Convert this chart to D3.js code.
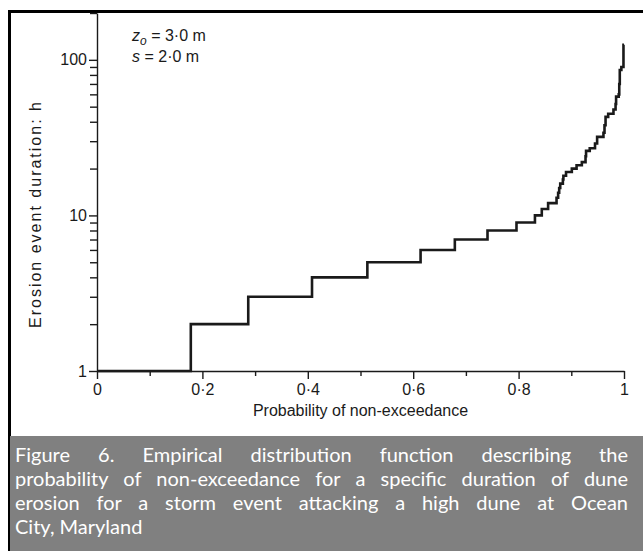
<!DOCTYPE html>
<html><head><meta charset="utf-8">
<script src="https://cdn.jsdelivr.net/npm/d3@7"></script>
<style>
html,body{margin:0;padding:0;background:#fff;}
#wrap{position:relative;width:643px;height:551px;overflow:hidden;}
svg{position:absolute;left:0;top:0;}
#cap{position:absolute;left:10px;top:436px;width:633px;height:115px;background:#808080;}
#cap div{position:absolute;left:5px;width:613px;color:#fff;font-family:Lato,"Open Sans",sans-serif;font-size:20px;line-height:24px;white-space:nowrap;}
#cap div.j{text-align:justify;text-align-last:justify;white-space:normal;}
</style></head>
<body><div id="wrap"></div>
<script>
// Empirical distribution: probability at which each duration level begins
const probStart = [0, 0.178, 0.287, 0.408, 0.513, 0.614, 0.679, 0.741, 0.796, 0.831, 0.844, 0.856,
  0.872, 0.875, 0.877, 0.879, 0.884, 0.885, 0.890, 0.901, 0.910, 0.920, 0.927, 0.928, 0.935,
  0.945, 0.949, 0.961, 0.963, 0.965, 0.970, 0.980, 0.984, 0.985, 0.990, 0.991, 0.992, 0.995, 0.999];
const durations = [1, 2, 3, 4, 5, 6, 7, 8, 9, 10, 11, 12,
  13, 14, 15, 16, 17, 18, 19, 20, 21, 22, 24, 26, 27,
  29, 32, 34, 38, 43, 45, 48, 52, 58, 60, 70, 86, 90, 125];
const probEnd = 1;
const xMajorTicks = [0, 0.2, 0.4, 0.6, 0.8, 1];
const xMinorTicks = [0.1, 0.3, 0.5, 0.7, 0.9];
const yMajorTicks = [1, 10, 100];
const yMinorTicks = [2,3,4,5,6,7,8,9,20,30,40,50,60,70,80,90,200];
const xLabel = "Probability of non-exceedance";
const yLabel = "Erosion event duration: h";
const captionLines = [
  "Figure 6. Empirical distribution function describing the",
  "probability of non-exceedance for a specific duration of dune",
  "erosion for a storm event attacking a high dune at Ocean",
  "City, Maryland"];

const W = 643, H = 551;
const wrap = d3.select("#wrap");
const svg = wrap.append("svg").attr("width", W).attr("height", H);

// frame
svg.append("line").attr("x1", 8).attr("x2", W).attr("y1", 11.5).attr("y2", 11.5).attr("stroke", "#000").attr("stroke-width", 3);
svg.append("line").attr("x1", 9.5).attr("x2", 9.5).attr("y1", 10).attr("y2", H).attr("stroke", "#000").attr("stroke-width", 3);

const x = d3.scaleLinear().domain([0, 1]).range([97, 624]);
const y = d3.scaleLog().domain([1, 200]).range([371, 13]);
const fmt = d => String(d).replace(".", "\u00b7");
const font = "'Liberation Sans', Arial, sans-serif";

function style(g) {
  g.select(".domain").attr("stroke", "#1a1a1a").attr("stroke-width", 1.4);
  g.selectAll(".tick line").attr("stroke", "#1a1a1a").attr("stroke-width", 1.4);
  g.selectAll(".tick text").attr("font-family", font).attr("font-size", 16).attr("fill", "#1a1a1a");
}
const gx = svg.append("g").attr("transform", "translate(0,371)")
  .call(d3.axisBottom(x).tickValues(xMajorTicks).tickSize(8).tickSizeOuter(0).tickPadding(5).tickFormat(fmt));
style(gx);
const gx2 = svg.append("g").attr("transform", "translate(0,371)")
  .call(d3.axisBottom(x).tickValues(xMinorTicks).tickSize(5).tickFormat(""));
style(gx2); gx2.select(".domain").remove();

const gy = svg.append("g").attr("transform", "translate(97,0)")
  .call(d3.axisLeft(y).tickValues(yMajorTicks).tickSize(8).tickSizeOuter(0).tickPadding(2).tickFormat(d3.format("d")));
style(gy);
const gy2 = svg.append("g").attr("transform", "translate(97,0)")
  .call(d3.axisLeft(y).tickValues(yMinorTicks).tickSize(7).tickFormat(""));
style(gy2); gy2.select(".domain").remove();

// step curve
const pts = probStart.map((p, i) => [p, durations[i]]);
pts.push([probEnd, durations[durations.length - 1]]);
svg.append("path").datum(pts)
  .attr("d", d3.line().x(d => x(d[0])).y(d => y(d[1])).curve(d3.curveStepAfter))
  .attr("fill", "none").attr("stroke", "#1a1a1a").attr("stroke-width", 2.6).attr("stroke-linejoin", "miter");

// axis labels
svg.append("text").attr("x", 360.5).attr("y", 416).attr("text-anchor", "middle")
  .attr("font-family", font).attr("font-size", 16).attr("fill", "#1a1a1a").text(xLabel);
svg.append("text").attr("transform", "translate(41,215) rotate(-90)").attr("text-anchor", "middle")
  .attr("font-family", font).attr("font-size", 16).attr("fill", "#1a1a1a")
  .attr("textLength", 226).attr("lengthAdjust", "spacing").text(yLabel);

// annotation
const a1 = svg.append("text").attr("x", 132).attr("y", 41).attr("font-family", font).attr("font-size", 16).attr("fill", "#1a1a1a");
a1.append("tspan").attr("font-style", "italic").text("z");
a1.append("tspan").attr("font-style", "italic").attr("font-size", 12).attr("dy", 4).text("o");
a1.append("tspan").attr("dy", -4).text(" = 3\u00b70 m");
const a2 = svg.append("text").attr("x", 132).attr("y", 62).attr("font-family", font).attr("font-size", 16).attr("fill", "#1a1a1a");
a2.append("tspan").attr("font-style", "italic").text("s");
a2.append("tspan").text(" = 2\u00b70 m");

// caption
const cap = wrap.append("div").attr("id", "cap");
captionLines.forEach((t, i) => {
  cap.append("div").attr("class", i < captionLines.length - 1 ? "j" : "")
    .style("top", (6 + i * 24) + "px").text(t);
});
</script></body></html>
